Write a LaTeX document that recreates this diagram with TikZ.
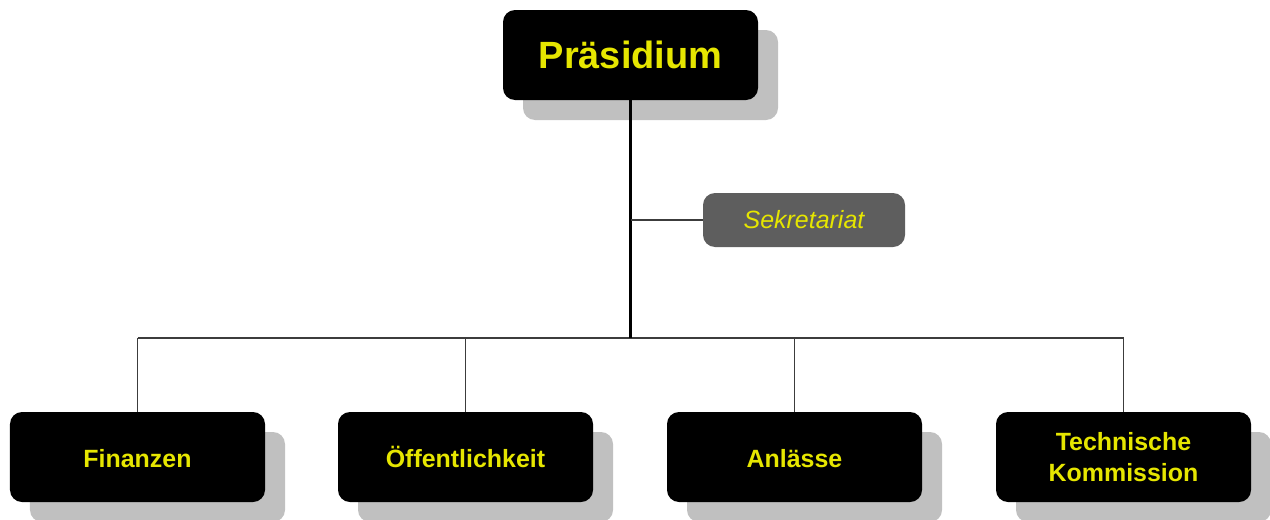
\documentclass[tikz,border=0pt]{standalone}
\usepackage{fontspec}
\setmainfont{Liberation Sans}
\usepackage{xcolor}
\usepackage{tikz}
\usetikzlibrary{shadows}

\definecolor{labelyellow}{RGB}{230,230,0}
\definecolor{shadowgray}{RGB}{192,192,192}
\definecolor{sekgray}{RGB}{94,94,94}
\definecolor{linegray}{RGB}{60,60,60}

\tikzset{
  blackbox/.style={rectangle, rounded corners=0.24cm, fill=black, text=labelyellow,
    minimum width=5.1cm, minimum height=1.8cm, align=center,
    drop shadow={shadow xshift=0.4cm, shadow yshift=-0.4cm, fill=shadowgray, opacity=1}},
  headbox/.style={blackbox, font=\bfseries\fontsize{21.6}{26}\selectfont},
  unitbox/.style={blackbox, font=\bfseries\fontsize{14.2}{17.6}\selectfont,
    execute at begin node=\vphantom{Ö}},
  staffbox/.style={rectangle, rounded corners=0.24cm, fill=sekgray, text=labelyellow,
    minimum width=4.04cm, minimum height=1.08cm,
    font=\itshape\fontsize{14.2}{17}\selectfont},
  trunk/.style={black, line width=1.6pt},
  branch/.style={linegray, line width=0.6pt}
}

\begin{document}
\begin{tikzpicture}
  \useasboundingbox (0,0) rectangle (25.4,10.38);

  % Top of the organisation
  \node[headbox] (pres) at (12.61,9.28) {Präsidium};
  \node[staffbox] (sek) at (16.08,5.98) {Sekretariat};

  % Departments
  \node[unitbox] (fin) at (2.75,1.24) {Finanzen};
  \node[unitbox] (oef) at (9.31,1.24) {Öffentlichkeit};
  \node[unitbox] (anl) at (15.89,1.24) {Anlässe};
  \node[unitbox] (tech) at (22.47,1.24) {Technische\\Kommission};

  % Connectors
  \coordinate (bus) at (12.61,3.62);
  \draw[branch] (fin |- bus) -- (tech |- bus);
  \foreach \dep in {fin,oef,anl,tech}
    \draw[branch] (\dep |- bus) -- (\dep.north);
  \draw[trunk] (pres.south) -- (bus);
  \draw[branch] (pres |- sek) -- (sek.west);
\end{tikzpicture}
\end{document}
